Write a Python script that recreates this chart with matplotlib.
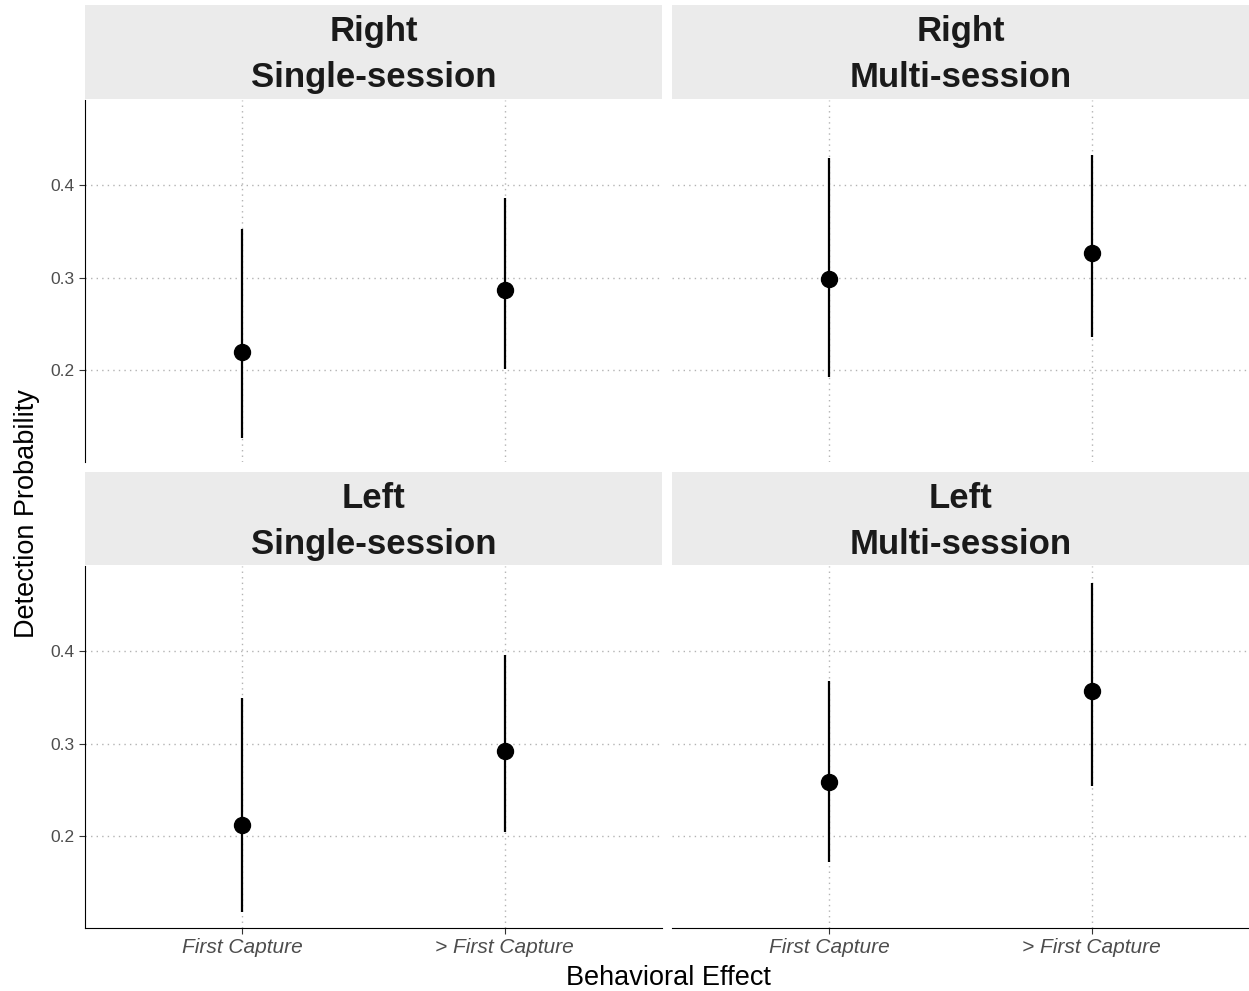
import numpy as np
import matplotlib.pyplot as plt

plt.rcParams['font.family'] = ['Liberation Sans', 'DejaVu Sans']

effects = ["First Capture", "> First Capture"]
panels = [("Right", "Single-session"), ("Right", "Multi-session"),
          ("Left", "Single-session"), ("Left", "Multi-session")]

# estimate, lower, upper for each panel (First Capture, > First Capture)
est = [[0.2195, 0.286], [0.298, 0.327], [0.212, 0.292], [0.258, 0.3565]]
low = [[0.1265, 0.201], [0.192, 0.236], [0.118, 0.204], [0.172, 0.254]]
upp = [[0.353, 0.386], [0.429, 0.432], [0.349, 0.396], [0.368, 0.474]]

yticks = [0.2, 0.3, 0.4]
ylim = (0.1005, 0.492)

W, H = 1249, 991
fig = plt.figure(figsize=(W / 100, H / 100), dpi=100)

def px(x0, y0, x1, y1):
    return [x0 / W, 1 - y1 / H, (x1 - x0) / W, (y1 - y0) / H]

cols = [(85, 662), (672, 1249)]
rows = [(5, 99, 100, 462), (472, 565, 566, 928)]

for i, (side, sess) in enumerate(panels):
    r, c = divmod(i, 2)
    x0, x1 = cols[c]
    s0, s1, p0, p1 = rows[r]

    sax = fig.add_axes(px(x0, s0, x1, s1))
    sax.set_facecolor("#ebebeb")
    sax.set_xticks([]); sax.set_yticks([])
    for sp in sax.spines.values():
        sp.set_visible(False)
    sax.text(0.5, 0.47, f"{side}\n{sess}", ha="center", va="center",
             fontsize=25, fontweight="bold", color="#1a1a1a",
             linespacing=1.5, transform=sax.transAxes)

    ax = fig.add_axes(px(x0, p0, x1, p1))
    xs = np.arange(1, len(effects) + 1)
    ax.vlines(xs, low[i], upp[i], color="black", lw=1.6, zorder=3)
    ax.plot(xs, est[i], "o", color="black", ms=11.5, zorder=4)
    ax.set_xlim(0.4, 2.6)
    ax.set_ylim(*ylim)
    ax.set_xticks(xs)
    ax.set_yticks(yticks)
    ax.grid(True, color="#b3b3b3", ls=(0, (1, 3)), lw=1.0)
    ax.set_axisbelow(True)
    for sp in ["top", "right"]:
        ax.spines[sp].set_visible(False)
    ax.spines["left"].set_visible(c == 0)
    ax.spines["bottom"].set_visible(r == 1)
    ax.tick_params(axis="both", colors="#333333", length=4, width=0.8,
                   labelcolor="#4d4d4d")
    ax.tick_params(axis="y", labelsize=12.5, left=(c == 0), labelleft=(c == 0))
    ax.tick_params(axis="x", bottom=(r == 1), labelbottom=(r == 1))
    if r == 1:
        ax.set_xticklabels(effects, fontsize=15, style="italic")
    ax.yaxis.set_major_formatter(plt.FuncFormatter(lambda v, p: f"{v:.1f}"))

fig.text(27 / W, 1 - 514 / H, "Detection Probability", rotation=90,
         ha="center", va="center", fontsize=19.5, color="black")
fig.text(668 / W, 1 - 978 / H, "Behavioral Effect", ha="center",
         va="center", fontsize=19.5, color="black")

fig.savefig("out.png", dpi=100)
